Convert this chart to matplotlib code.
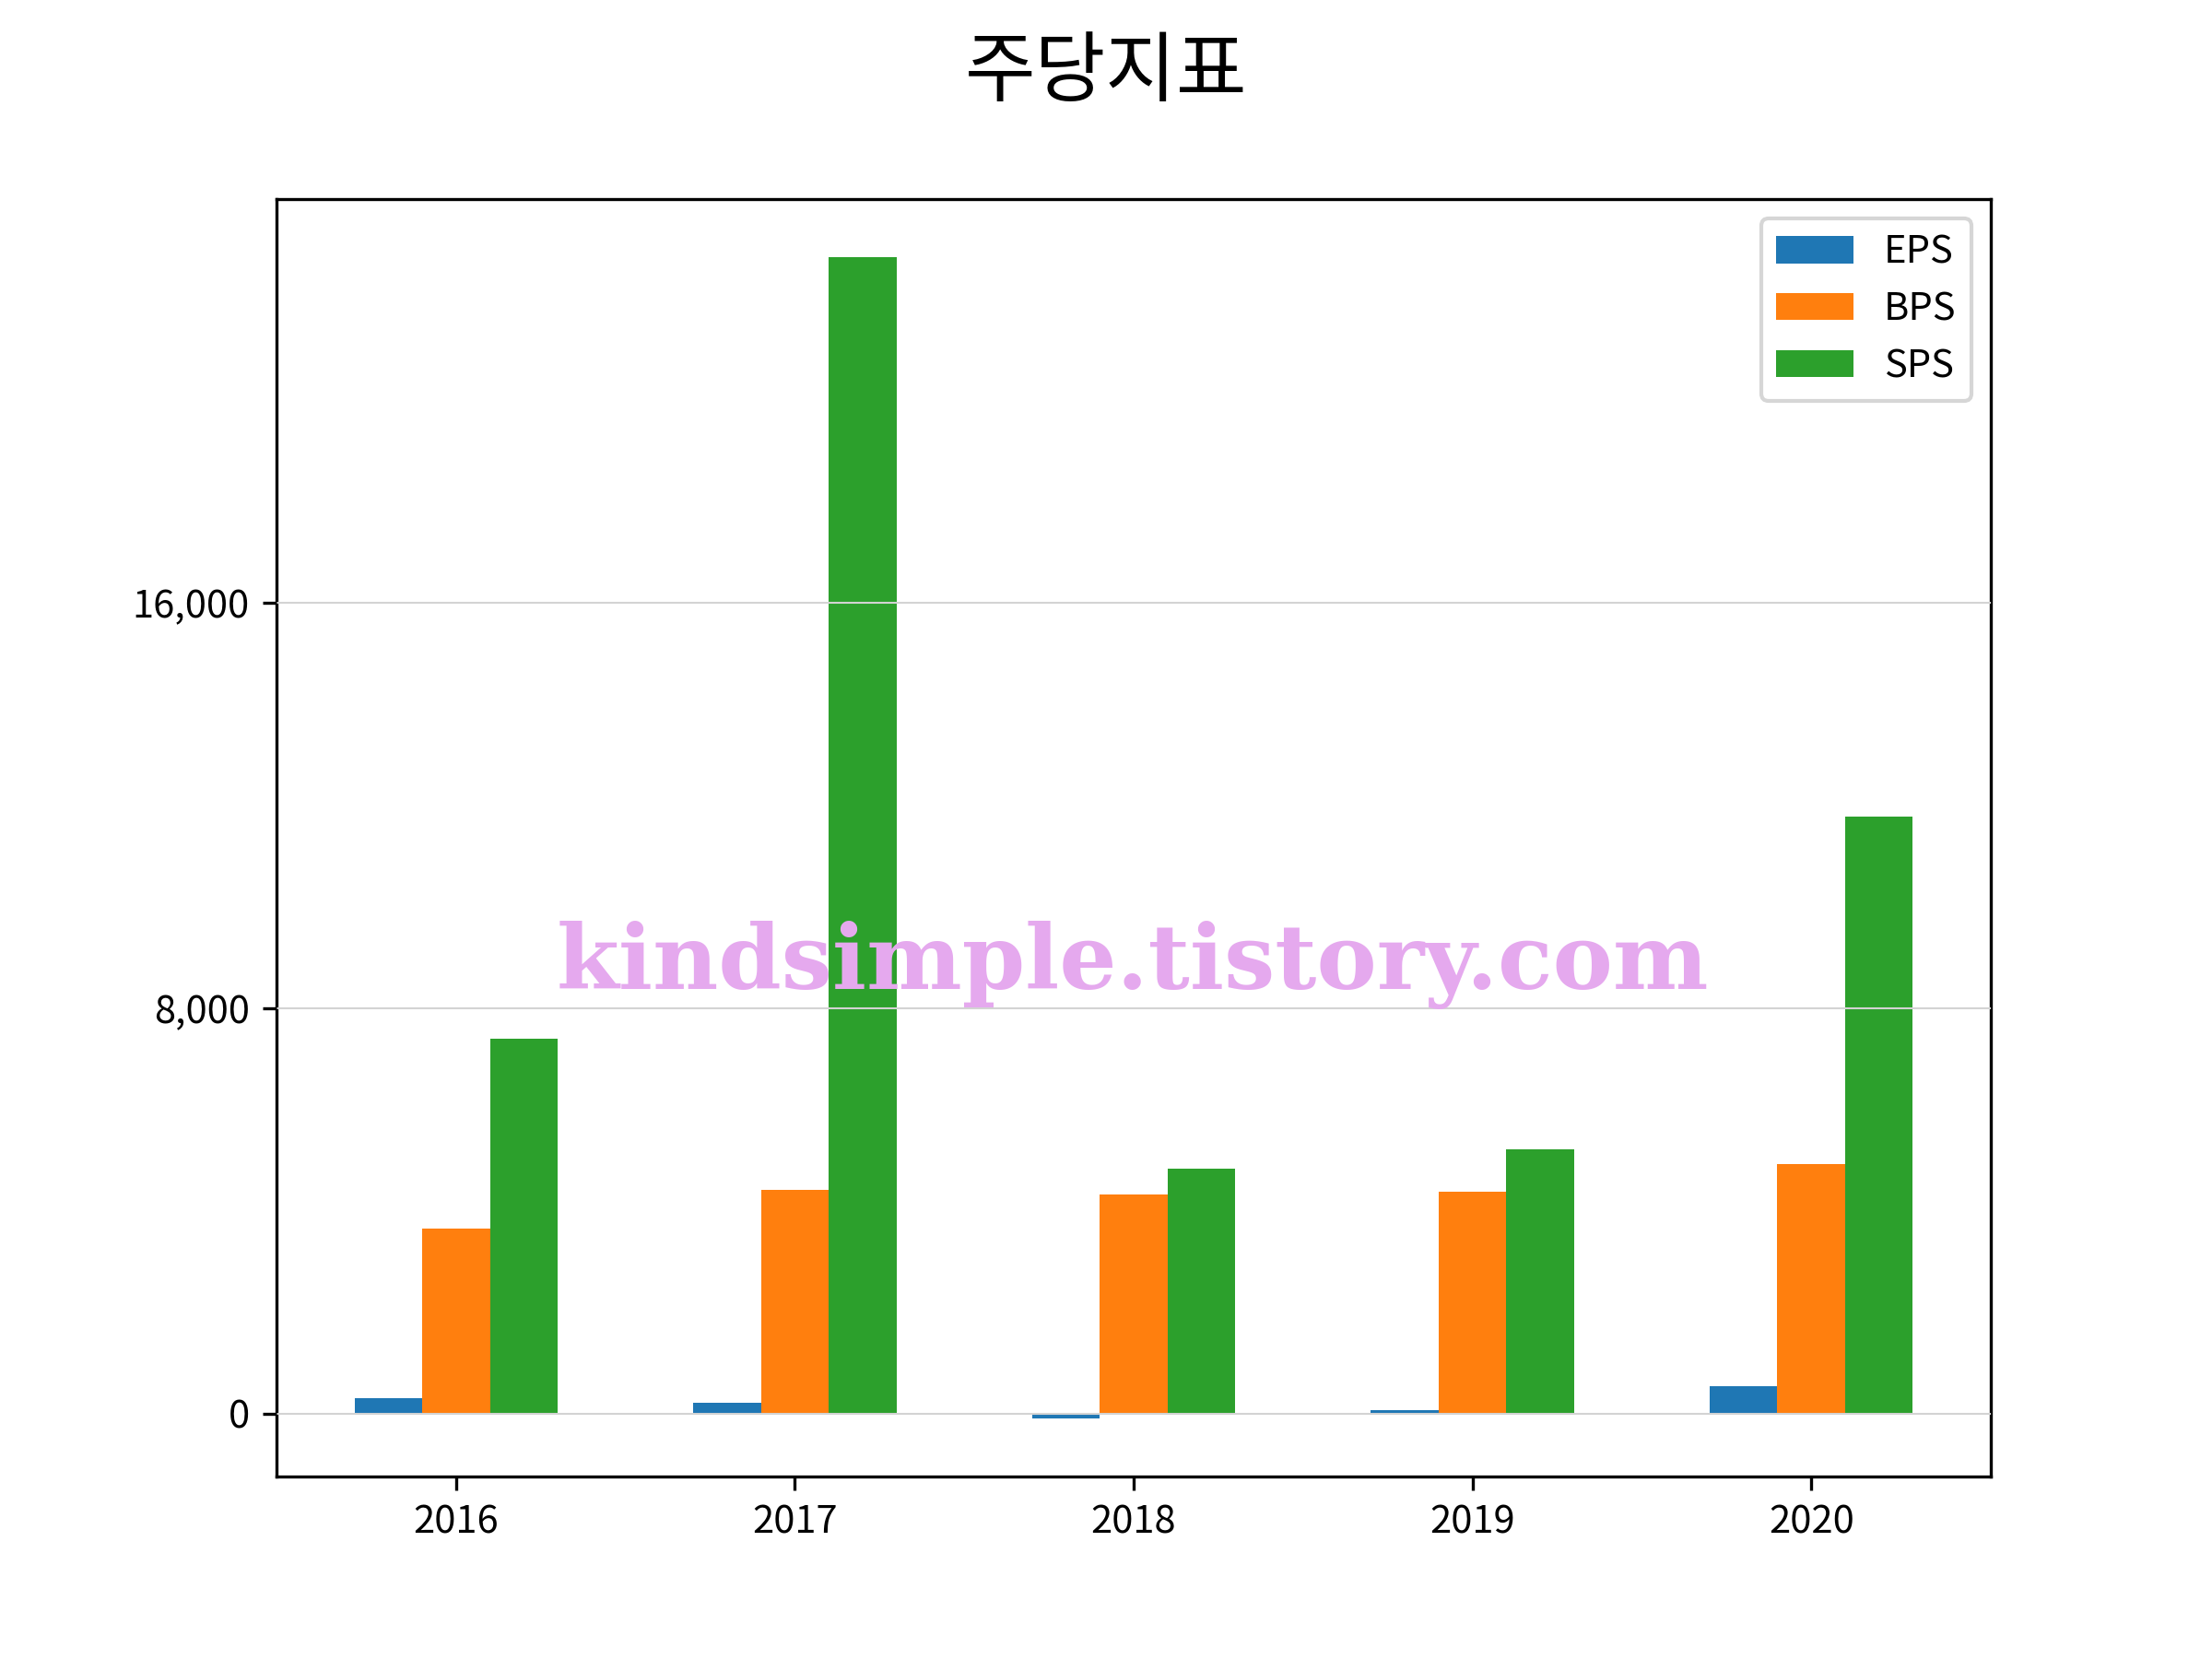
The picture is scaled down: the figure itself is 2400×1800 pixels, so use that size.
import matplotlib.pyplot as plt
import matplotlib.ticker as mticker
import numpy as np

plt.rcParams['font.family'] = ['Noto Sans CJK KR', 'DejaVu Sans']

years = ['2016', '2017', '2018', '2019', '2020']
eps = [303, 212, -97, 67, 540]
bps = [3645, 4410, 4319, 4373, 4919]
sps = [7394, 22826, 4828, 5210, 11780]
yticks = [0, 8000, 16000]

fig, ax = plt.subplots(figsize=(8, 6), dpi=300)
x = np.arange(len(years))
w = 0.2
ax.bar(x - w, eps, width=w, label='EPS')
ax.bar(x, bps, width=w, label='BPS')
ax.bar(x + w, sps, width=w, label='SPS')

ax.set_xticks(x)
ax.set_xticklabels(years)
ax.set_yticks(yticks)
ax.yaxis.set_major_formatter(mticker.StrMethodFormatter('{x:,.0f}'))
ax.set_axisbelow(False)
ax.grid(axis='y', color='lightgray', linewidth=0.5)
ax.legend(loc='upper right')

fig.suptitle('주당지표', fontsize=20)
# watermark
fig.text(0.512, 0.404, 'kindsimple.tistory.com', ha='center', va='baseline',
         fontsize=23.5, fontweight='bold', family='DejaVu Serif', color='#E5A9EE')

plt.savefig('out.png')
